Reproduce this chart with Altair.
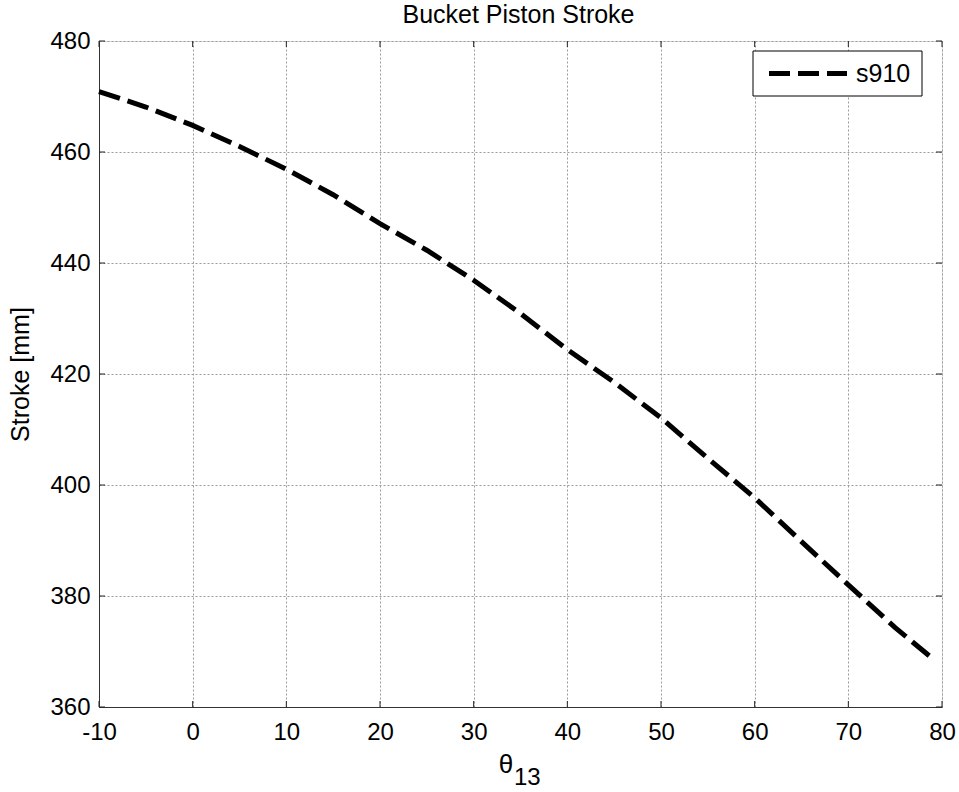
import altair as alt
import pandas as pd

# ---- data ----
theta13 = [-10, -5, 0, 5, 10, 15, 20, 25, 30, 35, 40, 45, 50, 55, 60, 65, 70, 75, 78.8]
s910 = [470.9, 468.1, 464.8, 461.0, 456.9, 452.3, 447.1, 442.3, 436.9, 430.9,
        424.4, 418.5, 412.1, 404.8, 397.7, 389.8, 382.0, 374.3, 369.0]
series_name = ["s910"]
chart_title = ["Bucket Piston Stroke"]
x_ticks = [-10, 0, 10, 20, 30, 40, 50, 60, 70, 80]
y_ticks = [360, 380, 400, 420, 440, 460, 480]

W, H = 843, 666
FONT = "Liberation Sans"

df = pd.DataFrame({"theta": theta13, "stroke": s910, "series": series_name[0]})
xt = pd.DataFrame({"v": x_ticks})
yt = pd.DataFrame({"v": y_ticks})
lab = pd.DataFrame({"label": series_name, "title": chart_title})

xs = alt.Scale(domain=[-10, 80], nice=False, zero=False)
ys = alt.Scale(domain=[360, 480], nice=False, zero=False)

xaxis = alt.Axis(values=x_ticks, title=None, grid=True, ticks=False, tickSize=0,
                 labelPadding=13, labelFontSize=24, labelFont=FONT, labelColor="black",
                 labelFlush=False, labelExpr="replace(datum.label, '\u2212', '-')",
                 domainColor="#333333", gridColor="#9a9a9a", gridDash=[2, 2])
yaxis = alt.Axis(values=y_ticks, title="Stroke [mm]", grid=True, ticks=False, tickSize=0,
                 labelPadding=9, labelFontSize=24, labelFont=FONT, labelColor="black",
                 labelFlush=False,
                 titleFont=FONT, titleFontSize=25, titleFontWeight="normal",
                 titleColor="black", titlePadding=16,
                 domainColor="#333333", gridColor="#9a9a9a", gridDash=[2, 2])

line = alt.Chart(df).mark_line(color="black", strokeWidth=5, strokeDash=[22, 8],
                               strokeCap="butt").encode(
    x=alt.X("theta:Q", scale=xs, axis=xaxis),
    y=alt.Y("stroke:Q", scale=ys, axis=yaxis),
)

tick_col = "#222222"
bx = alt.Chart(xt).mark_rule(color=tick_col, strokeWidth=1).encode(
    x=alt.X("v:Q", scale=xs), y=alt.value(H), y2=alt.value(H - 6))
tx = alt.Chart(xt).mark_rule(color=tick_col, strokeWidth=1).encode(
    x=alt.X("v:Q", scale=xs), y=alt.value(0), y2=alt.value(6))
ly = alt.Chart(yt).mark_rule(color=tick_col, strokeWidth=1).encode(
    y=alt.Y("v:Q", scale=ys), x=alt.value(0), x2=alt.value(6))
ry = alt.Chart(yt).mark_rule(color=tick_col, strokeWidth=1).encode(
    y=alt.Y("v:Q", scale=ys), x=alt.value(W), x2=alt.value(W - 6))

# legend (manual)
lbox = alt.Chart(lab).mark_rect(fill="white", stroke="black", strokeWidth=1).encode(
    x=alt.value(654), x2=alt.value(823), y=alt.value(10), y2=alt.value(55))
lline = alt.Chart(lab).mark_rule(color="black", strokeWidth=5, strokeDash=[21, 8],
                                 strokeCap="butt").encode(
    x=alt.value(670), x2=alt.value(748), y=alt.value(32.5))
ltext = alt.Chart(lab).mark_text(align="left", baseline="middle", fontSize=25,
                                 font=FONT, color="black").encode(
    x=alt.value(757), y=alt.value(33), text="label:N")

# chart title as text
ttl = alt.Chart(lab).mark_text(align="center", baseline="alphabetic", fontSize=25,
                               font=FONT, color="black").encode(
    x=alt.value(W / 2 - 2), y=alt.value(-18), text="title:N")

# x-axis title: theta with subscript 13
xt1 = alt.Chart(lab).mark_text(align="center", baseline="alphabetic", fontSize=26,
                               font=FONT, color="black", text="θ").encode(
    x=alt.value(407), y=alt.value(732))
xt2 = alt.Chart(lab).mark_text(align="left", baseline="alphabetic", fontSize=24,
                               font=FONT, color="black", text="13").encode(
    x=alt.value(415), y=alt.value(744))

chart = alt.layer(line, bx, tx, ly, ry, lbox, lline, ltext, ttl, xt1, xt2).properties(
    width=W, height=H,
    autosize=alt.AutoSizeParams(type="none"),
    padding={"left": 99, "top": 41, "right": 17, "bottom": 85},
).configure_view(stroke="#888888", strokeWidth=1).configure(background="white")

chart.save("out.html", embed_options={"renderer": "svg", "actions": False})
